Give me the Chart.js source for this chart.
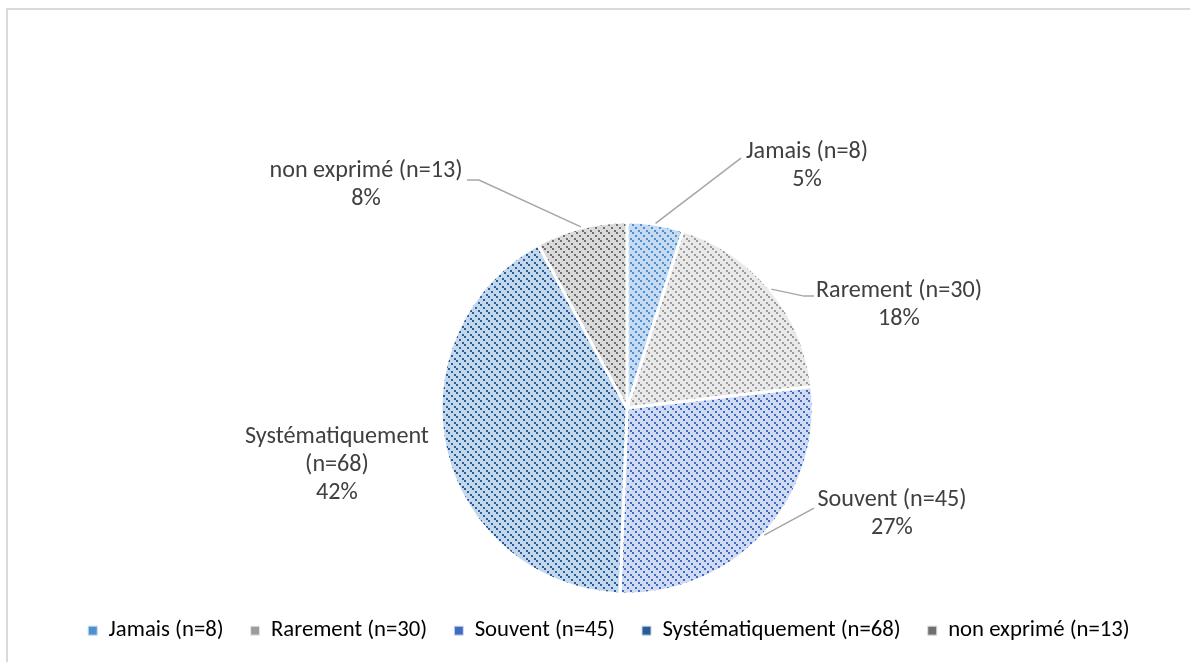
<!DOCTYPE html>
<html><head><meta charset="utf-8">
<script src="https://cdn.jsdelivr.net/npm/chart.js@4.4.1/dist/chart.umd.min.js"></script>
<style>
html,body{margin:0;padding:0;background:#fff;overflow:hidden;}
#frame{position:absolute;left:6px;top:8px;width:1300px;height:800px;border:2px solid #d9d9d9;box-sizing:border-box;}
#wrap{position:absolute;left:0;top:0;width:1190px;height:662px;}
</style></head>
<body>
<div id="frame"></div>
<div id="wrap"><canvas id="c" width="1190" height="662"></canvas></div>
<script>
// ---- data ----
const categories = ['Jamais (n=8)', 'Rarement (n=30)', 'Souvent (n=45)', 'Systématiquement (n=68)', 'non exprimé (n=13)'];
const counts = [8, 30, 45, 68, 13];
const labelLines = [['Jamais (n=8)', '5%'], ['Rarement (n=30)', '18%'], ['Souvent (n=45)', '27%'], ['Systématiquement', '(n=68)', '42%'], ['non exprimé (n=13)', '8%']];

// ---- styles ----
const baseColors = ['#c6dbf1', '#e9e9e9', '#d0dbf3', '#c3d7ed', '#dadada'];
const dotColors  = ['#4f91d0', '#9c9c9c', '#3f6cc0', '#2a5c98', '#6f6f6f'];
const FONT = 'Carlito, Lato, "Liberation Sans", sans-serif';

const mctx = document.createElement('canvas').getContext('2d');
function textW(text, size) { mctx.font = size + 'px ' + FONT; return mctx.measureText(text).width; }
const labelSize = 100 * 184 / textW('Systématiquement', 100);
const legendSize = 100 * 832 / categories.reduce((a, c) => a + textW(c, 100), 0);
const legendBox = 9;
const legendPad = Math.max(4, (1042 - 832 - 5 * (legendBox + legendSize / 2)) / 4);

function makePattern(bg, fg) {
  const t = document.createElement('canvas');
  t.width = 8; t.height = 8;
  const g = t.getContext('2d');
  g.fillStyle = bg; g.fillRect(0, 0, 8, 8);
  g.fillStyle = fg;
  [[0,0],[3,3],[6,6]].forEach(([x,y]) => g.fillRect(x, y, 2, 2));
  return g.createPattern(t, 'repeat');
}
const patterns = baseColors.map((b, i) => makePattern(b, dotColors[i]));

// label anchor layout relative to pie centre, in units of a 186px radius
const labelPos = [
  {x: 180, y: -256, line: [[114, -250]]},
  {x: 272, y: -117, line: [[177, -112], [187, -112]]},
  {x: 265, y: 92, line: [[187, 100]]},
  {x: -290, y: 29, line: null},
  {x: -261, y: -237, line: [[-148, -228], [-160, -228]]}
];

const dataLabels = {
  id: 'dataLabels',
  afterDatasetsDraw(chart) {
    const ctx = chart.ctx;
    const meta = chart.getDatasetMeta(0);
    meta.data.forEach((arc, i) => {
      const p = arc.getProps(['x', 'y', 'startAngle', 'endAngle', 'outerRadius'], true);
      const s = p.outerRadius / 186;
      const mid = (p.startAngle + p.endAngle) / 2;
      const lp = labelPos[i];
      ctx.save();
      if (lp.line) {
        ctx.strokeStyle = '#a6a6a6';
        ctx.lineWidth = 1.5;
        ctx.beginPath();
        ctx.moveTo(p.x + Math.cos(mid) * (p.outerRadius + 1), p.y + Math.sin(mid) * (p.outerRadius + 1));
        lp.line.forEach(([dx, dy]) => ctx.lineTo(p.x + dx * s, p.y + dy * s));
        ctx.stroke();
      }
      ctx.fillStyle = '#404040';
      ctx.font = labelSize.toFixed(2) + 'px ' + FONT;
      ctx.textAlign = 'center';
      ctx.textBaseline = 'middle';
      labelLines[i].forEach((t, k) => ctx.fillText(t, p.x + lp.x * s, p.y + (lp.y + k * 28) * s));
      ctx.restore();
    });
  }
};

const shiftLegend = {
  id: 'shiftLegend',
  afterLayout(chart) {
    const l = chart.legend;
    l.left -= 18; l.right -= 18;
  }
};

new Chart(document.getElementById('c'), {
  type: 'pie',
  data: {
    labels: categories,
    datasets: [{
      data: counts,
      backgroundColor: patterns,
      borderColor: '#ffffff',
      borderWidth: 3,
      radius: 186
    }]
  },
  options: {
    responsive: false,
    animation: false,
    layout: {padding: {top: 224, left: 64, right: 0, bottom: 10}},
    plugins: {
      tooltip: {enabled: false},
      legend: {
        position: 'bottom',
        labels: {
          color: '#595959',
          font: {family: FONT, size: legendSize},
          boxWidth: legendBox,
          boxHeight: legendBox,
          padding: legendPad,
          generateLabels(chart) {
            return categories.map((c, i) => ({
              text: c,
              fillStyle: dotColors[i],
              strokeStyle: baseColors[i],
              lineWidth: 1,
              index: i
            }));
          }
        }
      }
    }
  },
  plugins: [dataLabels, shiftLegend]
});
</script>
</body></html>
